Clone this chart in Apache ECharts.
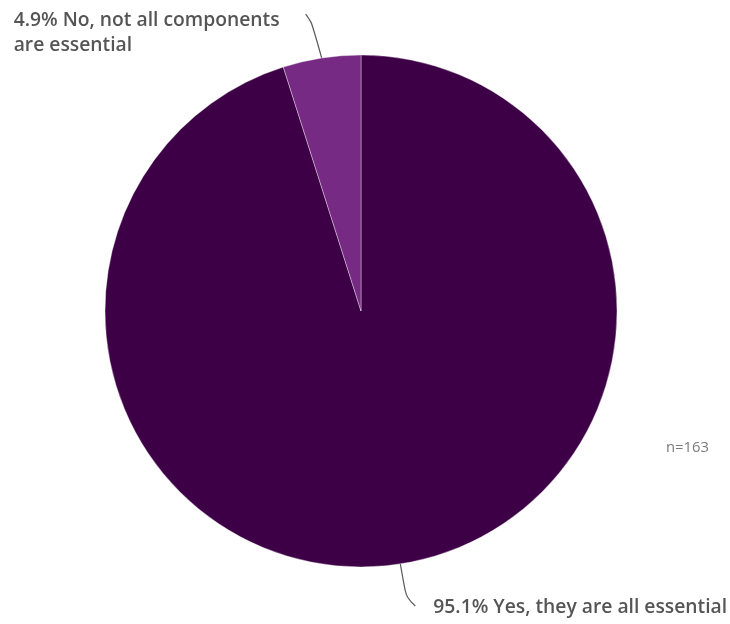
<!DOCTYPE html>
<html>
<head>
<meta charset="utf-8">
<script src="https://cdn.jsdelivr.net/npm/echarts@6/dist/echarts.min.js"></script>
<style>
  html, body { margin: 0; padding: 0; background: #fff; }
  #chart { width: 730px; height: 624px; }
</style>
</head>
<body>
<div id="chart"></div>
<script>
// Survey answers: are all components essential?
const answers = ['Yes, they are all essential', 'No, not all components\nare essential'];
const counts = [155, 8];
const sliceColors = ['#3d0046', '#772a84'];
const sampleNote = 'n=163';

const chart = echarts.init(document.getElementById('chart'), null, { renderer: 'canvas' });

const textStyle = {
  fontFamily: '"Open Sans", "Noto Sans", sans-serif',
  fontSize: 19.3,
  fontWeight: 600,
  lineHeight: 25,
  color: '#555555'
};

chart.setOption({
  animation: false,
  series: [{
    type: 'pie',
    center: [361, 311],
    radius: 256,
    startAngle: 90,
    clockwise: true,
    percentPrecision: 1,
    data: answers.map((name, i) => ({
      name: name,
      value: counts[i],
      itemStyle: { color: sliceColors[i] }
    })),
    itemStyle: { borderColor: 'rgba(255,255,255,0.6)', borderWidth: 0.6 },
    label: Object.assign({ show: true, position: 'outside', formatter: '{d}% {b}' }, textStyle),
    labelLine: {
      show: true,
      smooth: 0.4,
      length: 30,
      length2: 10,
      lineStyle: { color: '#5a5a5a', width: 1.2 }
    },
    labelLayout: function (params) {
      const p = params.labelLinePoints;
      if (!p) return {};
      const a = p[0];
      if (params.dataIndex === 1) {
        return {
          x: a[0] - 308, y: a[1] - 50,
          align: 'left', verticalAlign: 'top',
          labelLinePoints: [a, [a[0] - 10, a[1] - 36], [a[0] - 16, a[1] - 44]]
        };
      }
      return {
        x: a[0] + 33, y: a[1] + 44,
        align: 'left', verticalAlign: 'middle',
        labelLinePoints: [a, [a[0] + 6, a[1] + 34], [a[0] + 15, a[1] + 42]]
      };
    }
  }],
  graphic: [{
    type: 'text',
    left: 666,
    top: 440,
    style: {
      text: sampleNote,
      fontFamily: '"Open Sans", "Noto Sans", sans-serif',
      fontSize: 14.8,
      fill: '#7a7a7a'
    }
  }]
});
</script>
</body>
</html>
